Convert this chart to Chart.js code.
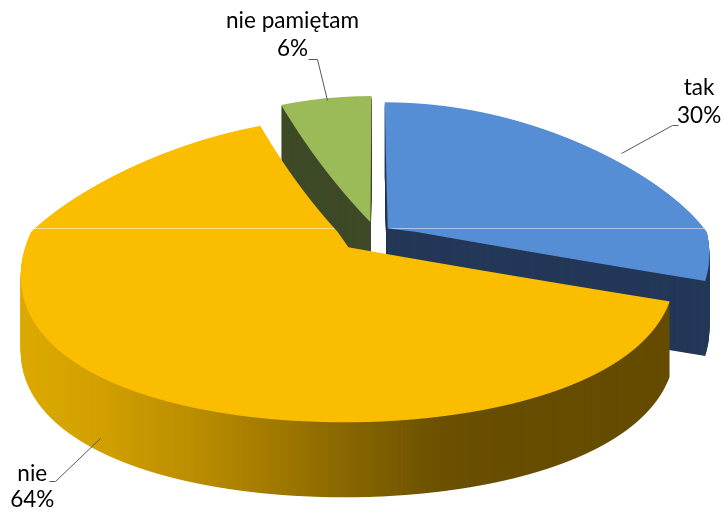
<!DOCTYPE html>
<html>
<head>
<meta charset="utf-8">
<script src="https://cdn.jsdelivr.net/npm/chart.js@4.4.1/dist/chart.umd.min.js"></script>
<style>
html,body{margin:0;padding:0;background:#ffffff;overflow:hidden;}
#wrap{width:725px;height:512px;position:relative;}
</style>
</head>
<body>
<div id="wrap"><canvas id="c"></canvas></div>
<script>
// ---- data ----
const categories = ['tak', 'nie', 'nie pamiętam'];
const values = [30, 64, 6];
const percentLabels = ['30%', '64%', '6%'];

// ---- styles ----
const topColors = ['#558ed5', '#fbbd00', '#9bbb59'];
const sideColors = ['#233757', 'gradient', '#3e4a27'];
const yellowSideStops = [[20,'#dcaa00'],[100,'#d2a000'],[200,'#b98c00'],[300,'#997300'],[350,'#876600'],[440,'#6b5100'],[500,'#664d00'],[725,'#644b00']];
const explode = [0.05, 0.12, 0.08];          // fraction of radius
const GEO = { cx: 375, cy: 232, rx: 319, ryBack: 126, ryFront: 175, perspBack: 0.3, perspFront: 0.15, depth: 75, seamY: 228 };
// label layout: offsets relative to the slice anchor (projected mid-angle point on the rim)
const labelLayout = [
  { start:[17,-1],  elbow:[68,-29],  end:[74,-29],  textX:95.5,  lines:[-59, -31] },
  { start:[4,63],   elbow:[-41,106], end:[-47,106], textX:-64,   lines:[106, 132] },
  { start:[1,2],    elbow:[-9,-39],  end:[-18,-39], textX:-33.5, lines:[-70, -42] }
];

function persp(v) { return 1 / (1 - (v < 0 ? GEO.perspBack : GEO.perspFront) * v); }
function project(u, v) {
  const ry = v < 0 ? GEO.ryBack : GEO.ryFront;
  return [GEO.cx + GEO.rx * persp(v) * u, GEO.cy + ry * v];
}

const pie3d = {
  id: 'pie3d',
  beforeDatasetsDraw(chart) {
    const ctx = chart.ctx;
    const W = chart.canvas.width, H = chart.canvas.height;
    const arcs = chart.getDatasetMeta(0).data;
    const tops = [], sides = [], anchors = [];
    arcs.forEach((el, i) => {
      const Rpx = el.outerRadius;
      const mid = (el.startAngle + el.endAngle) / 2;
      const e = explode[i];
      const ox = Math.cos(mid) * e * Rpx, oy = Math.sin(mid) * e * Rpx;
      anchors.push(project((1 + e) * Math.cos(mid), (1 + e) * Math.sin(mid)));
      const c = document.createElement('canvas'); c.width = W; c.height = H;
      const o = c.getContext('2d');
      const r0 = Math.floor(GEO.cy - GEO.ryBack * 1.3), r1 = Math.ceil(GEO.cy + GEO.ryFront * 1.3);
      for (let row = r0; row < r1; row++) {
        const t = row + 0.5 - GEO.cy;
        const ry = t < 0 ? GEO.ryBack : GEO.ryFront;
        const v = t / ry;
        const f = persp(v);
        o.save();
        o.beginPath(); o.rect(0, row, W, 1); o.clip();
        o.translate(GEO.cx, GEO.cy);
        o.scale(GEO.rx * f / Rpx, ry / Rpx);
        o.translate(ox - el.x, oy - el.y);
        el.draw(o);
        o.restore();
      }
      // side silhouette
      const sc = document.createElement('canvas'); sc.width = W; sc.height = H;
      const so = sc.getContext('2d');
      so.drawImage(c, 0, 0);
      so.globalCompositeOperation = 'source-in';
      if (sideColors[i] === 'gradient') {
        const g = so.createLinearGradient(0, 0, W, 0);
        yellowSideStops.forEach(([x, col]) => g.addColorStop(Math.min(1, x / W), col));
        so.fillStyle = g;
      } else so.fillStyle = sideColors[i];
      so.fillRect(0, 0, W, H);
      // seam highlight on top face
      o.globalCompositeOperation = 'source-atop';
      o.fillStyle = 'rgba(255,255,255,0.5)';
      o.fillRect(0, GEO.seamY, W, 1);
      tops.push(c); sides.push(sc);
    });
    ctx.save();
    for (let j = GEO.depth; j >= 1; j--) {
      for (let i = 0; i < sides.length; i++) ctx.drawImage(sides[i], 0, j);
    }
    for (let i = 0; i < tops.length; i++) ctx.drawImage(tops[i], 0, 0);
    ctx.restore();

    // labels
    ctx.save();
    let fs = 22;
    ctx.font = fs + 'px Lato';
    const w = ctx.measureText('nie pamiętam').width;
    fs = fs * 133 / w;
    ctx.font = fs.toFixed(2) + 'px Lato';
    ctx.strokeStyle = '#595959';
    ctx.lineWidth = 1;
    ctx.fillStyle = '#000000';
    ctx.textAlign = 'center';
    ctx.textBaseline = 'alphabetic';
    anchors.forEach((a, i) => {
      const L = labelLayout[i];
      ctx.beginPath();
      ctx.moveTo(Math.round(a[0] + L.start[0]) + 0.5, Math.round(a[1] + L.start[1]) + 0.5);
      ctx.lineTo(Math.round(a[0] + L.elbow[0]) + 0.5, Math.round(a[1] + L.elbow[1]) + 0.5);
      ctx.lineTo(Math.round(a[0] + L.end[0]) + 0.5, Math.round(a[1] + L.end[1]) + 0.5);
      ctx.stroke();
      const tx = a[0] + L.textX;
      ctx.fillText(categories[i], tx, a[1] + L.lines[0]);
      ctx.fillText(percentLabels[i], tx, a[1] + L.lines[1]);
    });
    ctx.restore();
    return false;
  }
};

new Chart(document.getElementById('c'), {
  type: 'pie',
  data: {
    labels: categories,
    datasets: [{ data: values, backgroundColor: topColors, borderWidth: 0, offset: 0 }]
  },
  options: {
    responsive: true,
    maintainAspectRatio: false,
    animation: false,
    radius: 200,
    events: [],
    plugins: { legend: { display: false }, tooltip: { enabled: false } }
  },
  plugins: [pie3d]
});
</script>
</body>
</html>
